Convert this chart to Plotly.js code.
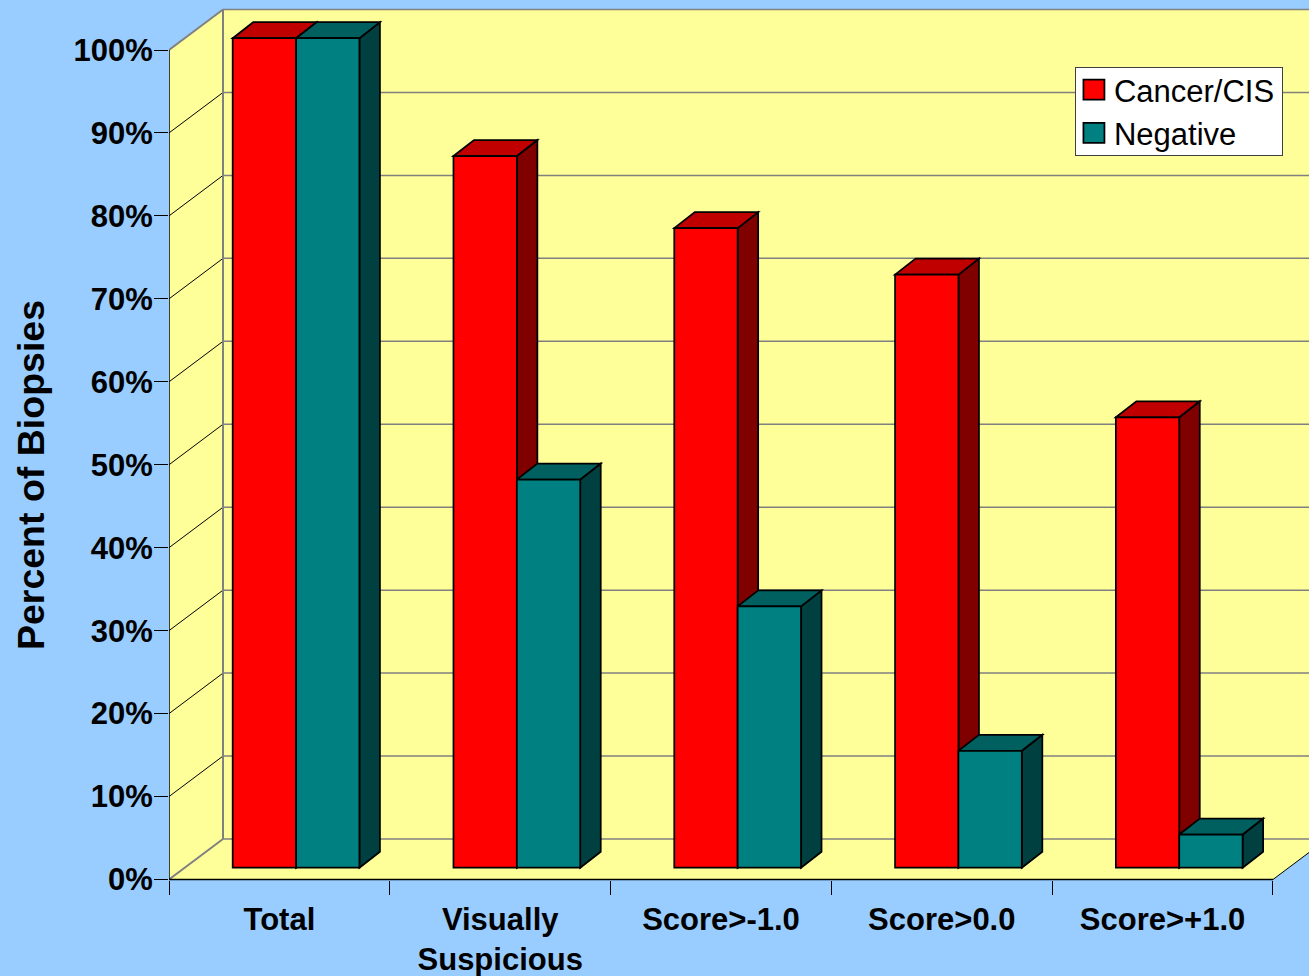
<!DOCTYPE html>
<html>
<head>
<meta charset="utf-8">
<script src="https://cdn.plot.ly/plotly-3.0.1.min.js"></script>
<style>html,body{margin:0;padding:0;background:#99ccff;overflow:hidden}</style>
</head>
<body>
<div id="chart" style="width:1309px;height:976px"></div>
<script>
// --- data ---
const categories = ["Total", "Visually<br>Suspicious", "Score>-1.0", "Score>0.0", "Score>+1.0"];
const cancer = [100, 85.8, 77.1, 71.5, 54.3];
const negative = [100, 46.8, 31.5, 14.1, 4.0];
const yTicks = [0, 10, 20, 30, 40, 50, 60, 70, 80, 90, 100];
const yTickLabels = yTicks.map(v => v + "%");

// --- pseudo-3D geometry, in axis units ---
const wallDx = 0.2446, wallDy = 4.88;     // depth of the chart box
const barDy = 1.42;                       // front plane of the bars
const sideDx = 0.0929, sideDy = 1.93;     // depth of each bar
const barW = 0.287, cancerOff = -0.2116, negOff = cancerOff + barW;

const WALL = "#ffff99", GREY = "#808080", FONT = "Liberation Sans, Arial, sans-serif";
const EDGE = 1.75;
const poly = (pts, fill, lc, lw) => ({
  type: "path", xref: "x", yref: "y", layer: "below",
  path: "M" + pts.map(p => p[0] + "," + p[1]).join(" L") + " Z",
  fillcolor: fill, line: {color: lc || "rgba(0,0,0,0)", width: lw === undefined ? 1 : lw}
});
const seg = (x0, y0, x1, y1, color, width) => ({
  type: "line", xref: "x", yref: "y", layer: "below", x0, y0, x1, y1,
  line: {color, width}
});

const L = -0.5, R = 4.5, FAR = 6, TOP = 100;
const shapes = [
  poly([[L,0],[L+wallDx,wallDy],[L+wallDx,TOP+wallDy],[L,TOP]], WALL),
  poly([[L,0],[L+wallDx,wallDy],[FAR,wallDy],[FAR,0]], WALL),
  poly([[L+wallDx,wallDy],[FAR,wallDy],[FAR,TOP+wallDy],[L+wallDx,TOP+wallDy]], WALL),
  poly([[R,0],[R+wallDx,wallDy],[FAR,wallDy],[FAR,-20],[R,-20]], "#99ccff")
];
yTicks.forEach(v => {
  const edge = v === 0 || v === 100;
  shapes.push(seg(L, v, L+wallDx, v+wallDy, edge ? GREY : "#000000", edge ? 2 : 1));
  shapes.push(seg(L+wallDx, v+wallDy, FAR, v+wallDy, GREY, 1.5));
});
shapes.push(seg(L+wallDx, wallDy, L+wallDx, TOP+wallDy, GREY, 2));
shapes.push(seg(R, 0, R+wallDx, wallDy, "#000000", 1));
shapes.push(seg(L, 0, L, TOP, "#000000", 1.5));
shapes.push(seg(L, 0, R, 0, "#000000", 1.5));

function boxFaces(i, off, value, topCol, sideCol) {
  const x0 = i + off, x1 = x0 + barW, b = barDy, t = barDy + value;
  shapes.push(poly([[x1,b],[x1+sideDx,b+sideDy],[x1+sideDx,t+sideDy],[x1,t]], sideCol, "#000000", EDGE));
  shapes.push(poly([[x0,t],[x0+sideDx,t+sideDy],[x1+sideDx,t+sideDy],[x1,t]], topCol, "#000000", EDGE));
}
categories.forEach((c, i) => boxFaces(i, cancerOff, cancer[i], "#c00000", "#800000"));
categories.forEach((c, i) => boxFaces(i, negOff, negative[i], "#006060", "#004040"));

const bar = (name, vals, off, color) => ({
  type: "bar", name, x: categories, y: vals,
  base: vals.map(() => barDy), offset: off, width: barW,
  marker: {color, line: {color: "#000000", width: EDGE}},
  hoverinfo: "x+y"
});

const data = [
  bar("Cancer/CIS", cancer, cancerOff, "#ff0000"),
  bar("Negative", negative, negOff, "#008080")
];

const pxPerUnit = 8.295;
const layout = {
  width: 1309, height: 976,
  margin: {l: 169.3, r: 0, t: 0, b: 26, pad: 0},
  paper_bgcolor: "#99ccff", plot_bgcolor: "#99ccff",
  font: {family: FONT, color: "#000000"},
  barmode: "overlay",
  showlegend: true,
  legend: {
    x: (1075 - 169.3) / (1309 - 169.3), xanchor: "left",
    y: 1 - 67 / 950, yanchor: "top",
    bgcolor: "#ffffff", bordercolor: "#404040", borderwidth: 1,
    font: {family: FONT, size: 31, color: "#000000"},
    traceorder: "normal", itemclick: false, itemdoubleclick: false
  },
  xaxis: {
    type: "category", categoryorder: "array", categoryarray: categories,
    range: [L, L + (1309 - 169.3) / 220.74], autorange: false,
    anchor: "free", position: (950 - 879.5) / 950,
    tickson: "boundaries", ticks: "outside", ticklen: 14, tickwidth: 1, tickcolor: "#000000",
    ticklabelstandoff: 18,
    showgrid: false, zeroline: false, showline: false, automargin: false, tickangle: 0,
    tickfont: {family: FONT, size: 31, weight: "bold", color: "#000000"}
  },
  yaxis: {
    range: [-(950 - 879.5) / pxPerUnit, 879.5 / pxPerUnit], autorange: false,
    tickmode: "array", tickvals: yTicks, ticktext: yTickLabels,
    ticks: "outside", ticklen: 14, tickwidth: 1, tickcolor: "#000000",
    ticklabelstandoff: -5,
    showgrid: false, zeroline: false, showline: false, automargin: false,
    tickfont: {family: FONT, size: 31, weight: "bold", color: "#000000"},
    title: {text: "Percent of Biopsies", standoff: 17,
            font: {family: FONT, size: 37.5, weight: "bold", color: "#000000"}}
  },
  shapes: shapes
};

// Legend swatches are larger and the box tighter than Plotly's defaults.
function tuneLegend() {
  document.querySelectorAll("#chart .legend path.legendbar, #chart .legend .legendpoints path")
    .forEach(p => p.setAttribute("d", "M10.5,10H-10.5V-10H10.5Z"));
  const bg = document.querySelector("#chart .legend rect.bg");
  if (bg) bg.setAttribute("height", "88");
  const box = document.querySelector("#chart .legend .scrollbox");
  if (box) box.setAttribute("transform", "translate(-2,-5)");
}
Plotly.newPlot("chart", data, layout, {displayModeBar: false, responsive: false}).then(gd => {
  tuneLegend();
  gd.on("plotly_afterplot", tuneLegend);
  setTimeout(tuneLegend, 30);
});
</script>
</body>
</html>
